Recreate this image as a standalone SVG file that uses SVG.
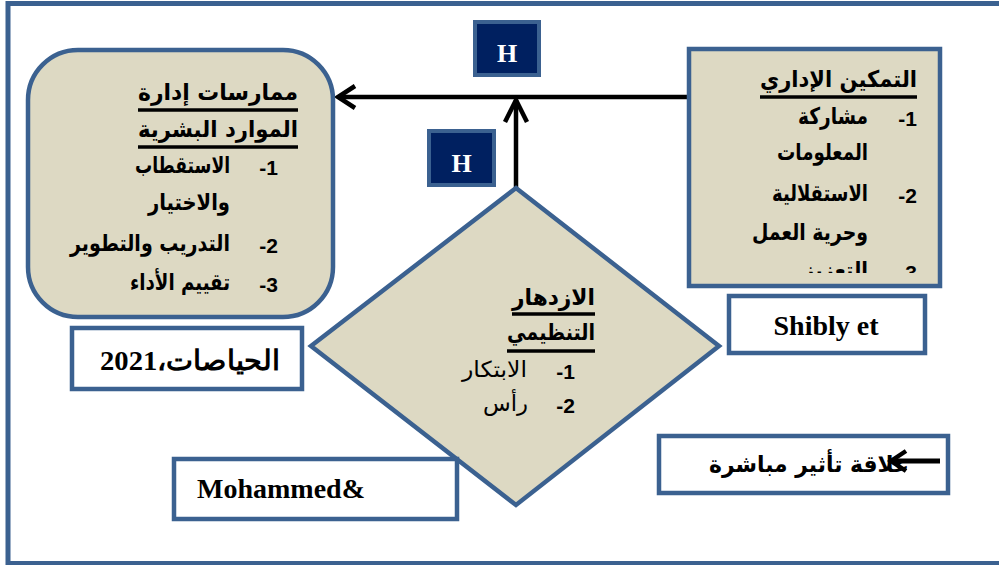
<svg xmlns="http://www.w3.org/2000/svg" width="999" height="565" viewBox="0 0 999 565">
<style>
.frame{fill:none;stroke:#3B6190;stroke-width:5}
.node{fill:#DDD9C3;stroke:#3B6190;stroke-width:4.5}
.lab{fill:#FFFFFF;stroke:#3B6190;stroke-width:4.5}
.hbox{fill:#002060;stroke:#3B6190;stroke-width:4}
.ar{font-family:"DejaVu Sans",sans-serif;font-weight:bold;font-size:23px;fill:#000}
.arn{font-family:"DejaVu Sans",sans-serif;font-weight:normal;font-size:22px;fill:#000}
.num{font-family:"Liberation Sans",Arial,sans-serif;font-weight:bold;font-size:21px;fill:#000}
.en{font-family:"Liberation Serif","Times New Roman",serif;font-weight:bold;font-size:28px;fill:#000}
.h{font-family:"Liberation Serif","Times New Roman",serif;font-weight:bold;font-size:26px;fill:#FFFFFF}
.ul{stroke:#000;stroke-width:3.5}
.conn{stroke:#000;stroke-width:4.5;fill:none;stroke-linecap:butt}
.head{stroke:#000;stroke-width:4.5;fill:none;stroke-linejoin:miter}
</style>
<defs>
<clipPath id="clipR"><rect x="690" y="50" width="250" height="223"/></clipPath>
</defs>
<rect width="999" height="565" fill="#FFFFFF"/>
<rect class="frame" x="8" y="3.5" width="1000" height="560"/>

<g id="connectors">
<line class="conn" x1="689" y1="97" x2="338" y2="97"/>
<polyline class="head" points="355,86 338,97 355,108"/>
<line class="conn" x1="516" y1="206" x2="516" y2="100"/>
<polyline class="head" points="505,122 516,100 527,122"/>
</g>

<g id="node-hrm">
<rect class="node" x="28" y="50" width="305" height="267" rx="50" ry="50"/>
<text class="ar" x="138" y="100" textLength="160" lengthAdjust="spacingAndGlyphs">ممارسات  إدارة</text>
<line class="ul" x1="138" y1="110" x2="298" y2="110"/>
<text class="ar" x="138" y="137" textLength="160" lengthAdjust="spacingAndGlyphs">الموارد البشرية</text>
<line class="ul" x1="138" y1="147" x2="298" y2="147"/>
<text class="num" x="278" y="175" text-anchor="end">-1</text>
<text class="ar" x="135" y="173" textLength="95" lengthAdjust="spacingAndGlyphs">الاستقطاب</text>
<text class="ar" x="148" y="210" textLength="82" lengthAdjust="spacingAndGlyphs">والاختيار</text>
<text class="num" x="278" y="253" text-anchor="end">-2</text>
<text class="ar" x="70" y="251" textLength="160" lengthAdjust="spacingAndGlyphs">التدريب والتطوير</text>
<text class="num" x="278" y="292" text-anchor="end">-3</text>
<text class="ar" x="130" y="290" textLength="100" lengthAdjust="spacingAndGlyphs">تقييم الأداء</text>
</g>

<g id="node-empowerment">
<rect class="node" x="689" y="49" width="251" height="237"/>
<g clip-path="url(#clipR)">
<text class="ar" x="760" y="87" textLength="157" lengthAdjust="spacingAndGlyphs">التمكين الإداري</text>
<line class="ul" x1="760" y1="97" x2="917" y2="97"/>
<text class="num" x="917" y="126" text-anchor="end">-1</text>
<text class="ar" x="798" y="124" textLength="70" lengthAdjust="spacingAndGlyphs">مشاركة</text>
<text class="ar" x="777" y="160" textLength="91" lengthAdjust="spacingAndGlyphs">المعلومات</text>
<text class="num" x="917" y="203" text-anchor="end">-2</text>
<text class="ar" x="772" y="201" textLength="96" lengthAdjust="spacingAndGlyphs">الاستقلالية</text>
<text class="ar" x="752" y="240" textLength="116" lengthAdjust="spacingAndGlyphs">وحرية العمل</text>
<text class="num" x="917" y="280" text-anchor="end">-3</text>
<text class="ar" x="803" y="278" textLength="65" lengthAdjust="spacingAndGlyphs">التعزيز</text>
</g>
</g>

<g id="node-prosperity">
<polygon class="node" points="516,188 719,346 516,505 311,346"/>
<text class="ar" x="512" y="305" textLength="83" lengthAdjust="spacingAndGlyphs">الازدهار</text>
<line class="ul" x1="512" y1="314" x2="595" y2="314"/>
<text class="ar" x="507" y="340" textLength="88" lengthAdjust="spacingAndGlyphs">التنظيمي</text>
<line class="ul" x1="507" y1="351" x2="595" y2="351"/>
<text class="num" x="575" y="379" text-anchor="end">-1</text>
<text class="arn" x="462" y="377" textLength="65" lengthAdjust="spacingAndGlyphs">الابتكار</text>
<text class="num" x="575" y="413" text-anchor="end">-2</text>
<text class="arn" x="483" y="411" textLength="45" lengthAdjust="spacingAndGlyphs">رأس</text>
</g>

<g id="h-top">
<rect class="hbox" x="475" y="22" width="64" height="53"/>
<text class="h" x="507" y="62" text-anchor="middle">H</text>
</g>
<g id="h-mid">
<rect class="hbox" x="429" y="131" width="65" height="54"/>
<text class="h" x="461.5" y="172" text-anchor="middle">H</text>
</g>

<g id="label-hiyasat">
<rect class="lab" x="72" y="328" width="230" height="61"/>
<text class="en" x="100" y="370" textLength="180" lengthAdjust="spacingAndGlyphs" direction="rtl" unicode-bidi="embed" text-anchor="end">الحياصات،2021</text>
</g>
<g id="label-mohammed">
<rect class="lab" x="174" y="459" width="283" height="60"/>
<text class="en" x="197" y="498">Mohammed&amp;</text>
</g>
<g id="label-shibly">
<rect class="lab" x="729" y="296" width="196" height="57"/>
<text class="en" x="826" y="335" text-anchor="middle">Shibly et</text>
</g>
<g id="legend">
<rect class="lab" x="659" y="436" width="289" height="57"/>
<text class="ar" x="709" y="472" textLength="200" lengthAdjust="spacingAndGlyphs">علاقة تأثير مباشرة</text>
<line class="conn" x1="940" y1="461" x2="892" y2="461" style="stroke-width:5"/>
<polyline class="head" points="906,451 891,461 906,471"/>
</g>
</svg>
